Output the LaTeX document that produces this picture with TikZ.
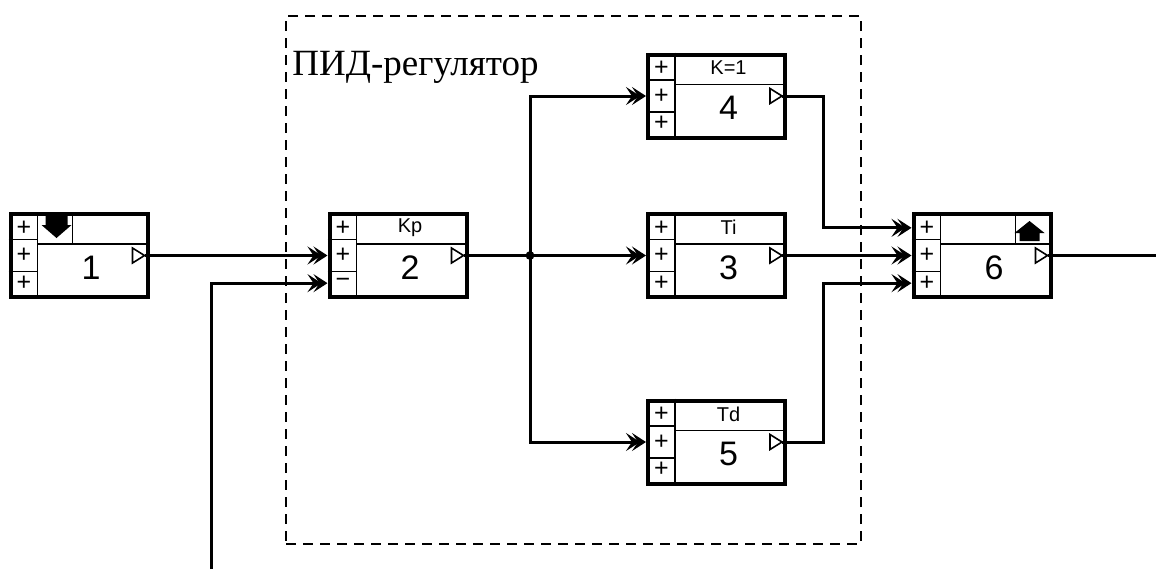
\documentclass[tikz,border=0pt]{standalone}
\usepackage{fontspec}
\setmainfont{Liberation Serif}
\newfontfamily\blkfont{Liberation Sans}
\usetikzlibrary{arrows.meta, positioning, calc}

% one block of the scheme: name, centre, header, number, sign of third input
\newcommand\fbdblock[5]{%
  \node[blk] (#1) at (#2) {};
  \draw[cell] ([xshift=14.5pt]#1.north west) -- ([xshift=14.5pt]#1.south west);
  \draw[cell] ([yshift=-13.83pt]#1.north west) -- ++(14.5pt,0);
  \draw[cell] ([yshift=13.83pt]#1.south west) -- ++(14.5pt,0);
  \draw[cell] ([xshift=14.5pt,yshift=-16pt]#1.north west) -- ([yshift=-16pt]#1.north east);
  \draw[cell,fill=white] ([xshift=-8.5pt,yshift=3.75pt]#1.east) -- ([xshift=-2.5pt]#1.east)
                          -- ([xshift=-8.5pt,yshift=-3.75pt]#1.east) -- cycle;
  \node[sign] at ([xshift=7.75pt,yshift=13.83pt]#1.west) {+};
  \node[sign] at ([xshift=7.75pt]#1.west) {+};
  \node[sign] at ([xshift=7.75pt,yshift=-13.83pt]#1.west) {#5};
  \node[hdr]  at ([xshift=6pt,yshift=-7.75pt]#1.north) {#3};
  \node[num]  at ([xshift=6pt,yshift=-6pt]#1.center) {#4};
  \coordinate (#1-in1) at ([yshift=13.83pt]#1.west);
  \coordinate (#1-in2) at (#1.west);
  \coordinate (#1-in3) at ([yshift=-13.83pt]#1.west);
  \coordinate (#1-out) at ([xshift=-2.5pt]#1.east);
}

\begin{document}
\begin{tikzpicture}[x=0.5pt, y=-0.5pt,
  blk/.style  ={draw, line width=2pt, minimum width=68.5pt, minimum height=41.5pt,
                inner sep=0pt, fill=white},
  cell/.style ={line width=0.8pt},
  sign/.style ={font=\blkfont\fontsize{12.5}{12.5}\selectfont, inner sep=0pt},
  hdr/.style  ={font=\blkfont\fontsize{10}{10}\selectfont, inner sep=0pt},
  num/.style  ={font=\blkfont\fontsize{17}{17}\selectfont, inner sep=0pt},
  wire/.style ={line width=1.5pt},
  sig/.style  ={line width=1.5pt,
                -{Stealth[length=7pt,width=9pt,inset=3pt,sep=-4pt]Stealth[length=7pt,width=9pt,inset=3pt]}},
  frame/.style={draw, line width=1pt, dash pattern=on 5pt off 3.5pt,
                minimum width=287.5pt, minimum height=264pt, inner sep=0pt},
]
\useasboundingbox (0,0) rectangle (1156,569);

%% ---- PID frame ----
\node[frame] (pid) at (573.5,280) {};
\node[anchor=base west, inner sep=0pt, font=\fontsize{18.5}{18.5}\selectfont]
  (title) at (292,75) {ПИД-регулятор};

%% ---- Blocks ----
\fbdblock{b1}{79,255.5}{}{1}{+}
\fbdblock{b2}{398,255.5}{Kp}{2}{−}
\fbdblock{b4}{716.5,96}{K=1}{4}{+}
\fbdblock{b3}{716.5,255.5}{Ti}{3}{+}
\fbdblock{b5}{716.5,442}{Td}{5}{+}
\fbdblock{b6}{982,255.5}{}{6}{+}

%% ---- icons of input and output blocks ----
\draw[cell] ([xshift=32pt]b1.north west) -- ([xshift=32pt,yshift=-16pt]b1.north west);
\fill[shift={(b1.north west)}] (37,3) -- (59,3) -- (59,13) -- (63,13) -- (48,26)
  -- (33,13) -- (37,13) -- cycle;
\draw[cell] ([xshift=-18.5pt]b6.north east) -- ([xshift=-18.5pt,yshift=-16pt]b6.north east);
\fill[shift={(b6.north west)}] (118,9) -- (133,21) -- (128,21) -- (128,29) -- (108,29)
  -- (108,21) -- (103,21) -- cycle;

%% ---- Connections ----
\coordinate (j)    at (530,255.5);
\coordinate (fb)   at (211,569);
\coordinate (yout) at (1156,255.5);

\draw[sig]  (b1-out) -- (b2-in2);
\draw[sig]  (fb) |- (b2-in3);
\draw[sig]  (b2-out) -- (b3-in2);
\draw[sig]  (j) |- (b4-in2);
\draw[sig]  (j) |- (b5-in2);
\fill (j) circle (2.2pt);

\draw[sig]  (b4-out) -- ++(41,0) |- (b6-in1);
\draw[sig]  (b3-out) -- (b6-in2);
\draw[sig]  (b5-out) -- ++(41,0) |- (b6-in3);
\draw[wire] (b6-out) -- (yout);

\end{tikzpicture}
\end{document}
